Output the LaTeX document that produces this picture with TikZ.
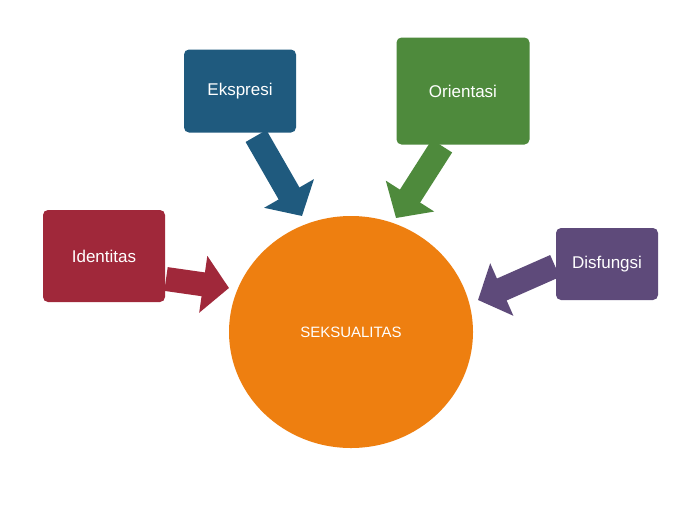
\documentclass[tikz,border=0pt]{standalone}
\usepackage{fontspec}
\setmainfont{Liberation Sans}
\usetikzlibrary{arrows.meta,shapes.geometric}
\definecolor{cred}{HTML}{A0283A}
\definecolor{cblue}{HTML}{1F5A7E}
\definecolor{cgreen}{HTML}{4E8A3C}
\definecolor{cpurple}{HTML}{5E4A7A}
\definecolor{corange}{HTML}{EE7F10}
\tikzset{
 box/.style={rounded corners=5pt, text=white, font=\fontsize{17}{20}\selectfont, inner sep=0pt},
 blockarrow/.style={line width=24pt, -{Triangle[width=56pt,length=26pt]}, shorten >=0pt}
}
\begin{document}
\begin{tikzpicture}[x=1pt,y=-1pt]
\useasboundingbox (0,0) rectangle (700,525);
\fill[white] (0,0) rectangle (700,525);
\node[ellipse, fill=corange, minimum width=244pt, minimum height=232pt, inner sep=0pt, text=white, font=\fontsize{15}{18}\selectfont] (s) at (351,332) {SEKSUALITAS};
\node[box, fill=cred, minimum width=122pt, minimum height=92pt] (id) at (104,256) {Identitas};
\node[box, fill=cblue, minimum width=112pt, minimum height=83pt] (ek) at (240,91) {Ekspresi};
\node[box, fill=cgreen, minimum width=133pt, minimum height=107pt] (or) at (463,91) {Orientasi};
\node[box, fill=cpurple, minimum width=102pt, minimum height=72pt] (di) at (607,264) {Disfungsi};
\coordinate (a1s) at (166,279); \coordinate (a1e) at (229,288);
\coordinate (a2s) at (256,136); \coordinate (a2e) at (302,216);
\coordinate (a3s) at (442,146); \coordinate (a3e) at (396,218);
\coordinate (a4s) at (555,266); \coordinate (a4e) at (478,300);
\draw[blockarrow, cred] (a1s) -- (a1e);
\draw[blockarrow, cblue] (a2s) -- (a2e);
\draw[blockarrow, cgreen] (a3s) -- (a3e);
\draw[blockarrow, cpurple] (a4s) -- (a4e);
\end{tikzpicture}
\end{document}
